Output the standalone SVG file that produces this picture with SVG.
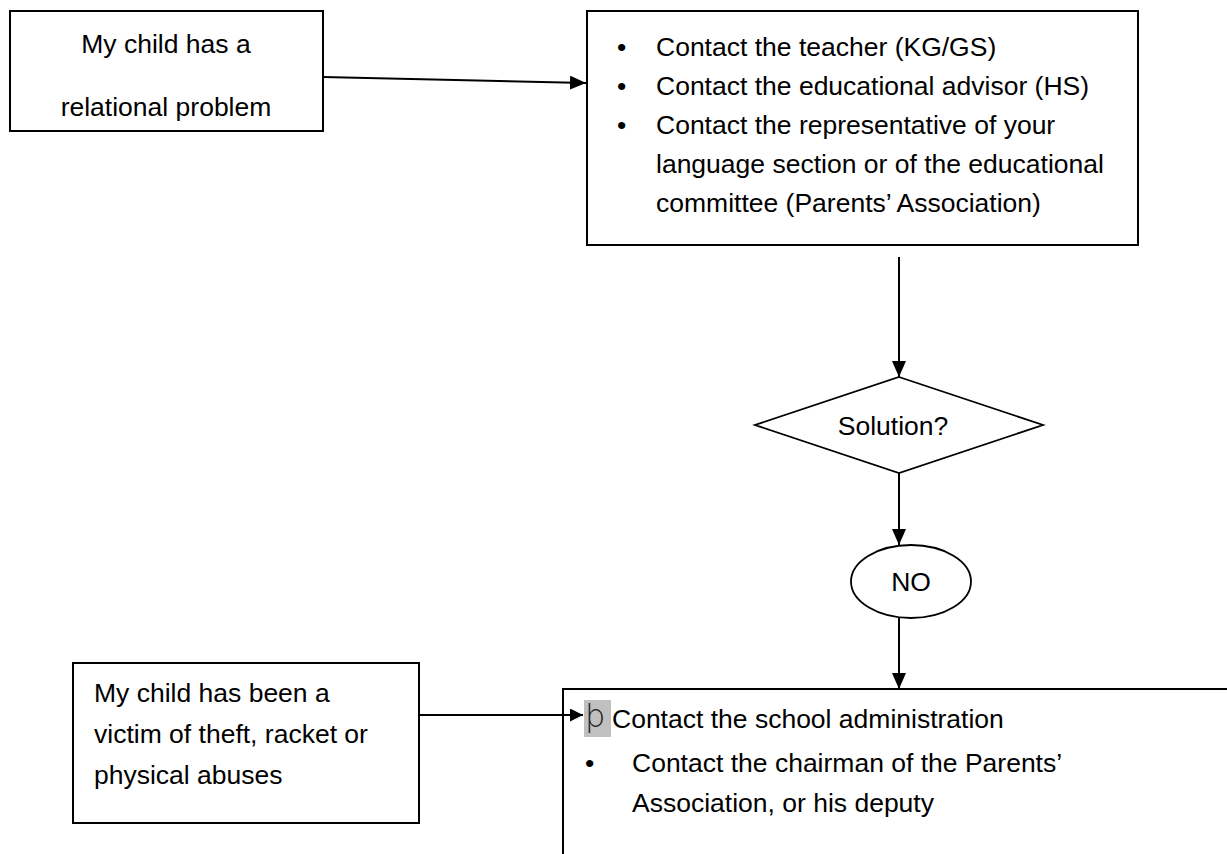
<svg xmlns="http://www.w3.org/2000/svg" width="1227" height="854" viewBox="0 0 1227 854">
<style>
.box{fill:#fff;stroke:#000;stroke-width:2}
.shape{fill:#fff;stroke:#000;stroke-width:1.8}
.t{font-family:"Liberation Sans",Arial,sans-serif;font-size:26.5px;fill:#000}
.c{text-anchor:middle}
.conn{stroke:#000;stroke-width:2;fill:none}
</style>
<defs>
<marker id="ah" viewBox="0 0 16 14" refX="16" refY="7" markerWidth="16" markerHeight="14" markerUnits="userSpaceOnUse" orient="auto">
<path d="M0,0 L16,7 L0,14 Z" fill="#000"/>
</marker>
<marker id="ahs" viewBox="0 0 13 13" refX="13" refY="6.5" markerWidth="13" markerHeight="13" markerUnits="userSpaceOnUse" orient="auto">
<path d="M0,0 L13,6.5 L0,13 Z" fill="#000"/>
</marker>
</defs>
<rect width="1227" height="854" fill="#fff"/>

<g id="node-relational">
<rect class="box" x="10" y="11" width="313" height="120"/>
<text class="t c" x="166" y="53">My child has a</text>
<text class="t c" x="166" y="116">relational problem</text>
</g>

<g id="node-contacts">
<rect class="box" x="587" y="11" width="551" height="234"/>
<text class="t" x="617" y="56">•</text>
<text class="t" x="656" y="56">Contact the teacher (KG/GS)</text>
<text class="t" x="617" y="95">•</text>
<text class="t" x="656" y="95">Contact the educational advisor (HS)</text>
<text class="t" x="617" y="134">•</text>
<text class="t" x="656" y="134">Contact the representative of your</text>
<text class="t" x="656" y="173">language section or of the educational</text>
<text class="t" x="656" y="212">committee (Parents’ Association)</text>
</g>

<g id="node-solution">
<polygon class="shape" points="899,377 1043,425 899,473 755,425"/>
<text class="t c" x="893" y="435">Solution?</text>
</g>

<g id="node-no">
<ellipse class="shape" cx="911" cy="581.5" rx="60" ry="36.5"/>
<text class="t c" x="911" y="591">NO</text>
</g>

<g id="node-victim">
<rect class="box" x="73" y="663" width="346" height="160"/>
<text class="t" x="94" y="702">My child has been a</text>
<text class="t" x="94" y="743">victim of theft, racket or</text>
<text class="t" x="94" y="784">physical abuses</text>
</g>

<g id="node-administration">
<rect class="box" x="563" y="689" width="720" height="220"/>
<rect x="584" y="700" width="27" height="37" fill="#c0c0c0"/>
<text x="585" y="727" style="font-family:'DejaVu Sans',sans-serif;font-size:32px;font-weight:200;fill:#222">þ</text>
<text class="t" x="612" y="728">Contact the school administration</text>
<text class="t" x="585" y="772">•</text>
<text class="t" x="632" y="772">Contact  the chairman of the Parents’</text>
<text class="t" x="632" y="812">Association, or his deputy</text>
</g>

<g id="connectors">
<line class="conn" x1="323" y1="77" x2="586" y2="83" marker-end="url(#ah)"/>
<line class="conn" x1="899" y1="257" x2="899" y2="377" marker-end="url(#ah)"/>
<line class="conn" x1="899" y1="473" x2="899" y2="545" marker-end="url(#ah)"/>
<line class="conn" x1="899" y1="618" x2="899" y2="689" marker-end="url(#ah)"/>
<line class="conn" x1="419" y1="715" x2="583" y2="715" stroke-width="1.6" marker-end="url(#ahs)"/>
</g>
</svg>
